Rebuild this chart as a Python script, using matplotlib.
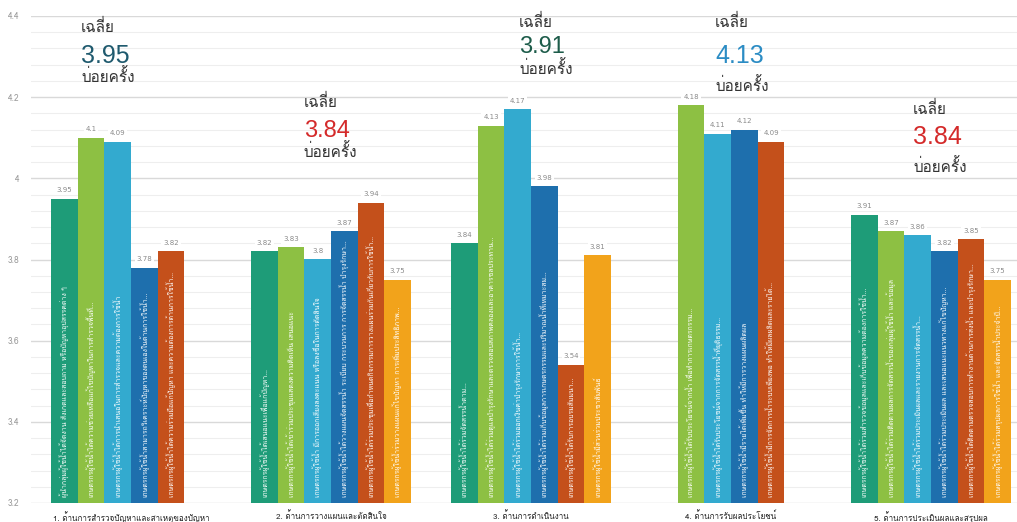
import numpy as np
import matplotlib
matplotlib.use("Agg")
import matplotlib.pyplot as plt
from matplotlib import font_manager
from matplotlib.ticker import MultipleLocator

# ---------------- data ----------------
categories = [
    "1. ด้านการสำรวจปัญหาและสาเหตุของปัญหา",
    "2. ด้านการวางแผนและตัดสินใจ",
    "3. ด้านการดำเนินงาน",
    "4. ด้านการรับผลประโยชน์",
    "5. ด้านการประเมินผลและสรุปผล",
]
s1 = [3.95, 3.82, 3.84, np.nan, 3.91]
s2 = [4.10, 3.83, 4.13, 4.18, 3.87]
s3 = [4.09, 3.80, 4.17, 4.11, 3.86]
s4 = [3.78, 3.87, 3.98, 4.12, 3.82]
s5 = [3.82, 3.94, 3.54, 4.09, 3.85]
s6 = [np.nan, 3.75, 3.81, np.nan, 3.75]
series = [s1, s2, s3, s4, s5, s6]

averages = ["3.95", "3.84", "3.91", "4.13", "3.84"]
avg_word = "เฉลี่ย"
freq_word = "บ่อยครั้ง"

bar_texts = [
    ["ผู้นำกลุ่มผู้ใช้น้ำได้จัดงาน สังเกตและสอบถาม หรือปัญหาอุปสรรคต่าง ๆ",
     "เกษตรกรผู้ใช้น้ำได้ความช่วยเหลือแก้ไขปัญหาในการสำรวจพื้นที่...",
     "เกษตรกรผู้ใช้น้ำได้การนำเสนอในการสำรวจและความต้องการใช้น้ำ",
     "เกษตรกรผู้ใช้น้ำสามารถวิเคราะห์ปัญหาของตนเองในด้านการใช้น้ำ...",
     "เกษตรกรผู้ใช้น้ำได้ความร่วมมือแก้ปัญหา และความต้องการด้านการใช้น้ำ...",
     ""],
    ["เกษตรกรผู้ใช้น้ำได้เสนอแนะเพื่อแก้ปัญหา...",
     "เกษตรกรผู้ใช้น้ำได้เข้าร่วมประชุมแสดงความคิดเห็น เสนอแนะ",
     "เกษตรกรผู้ใช้น้ำ มีการออกเสียงลงคะแนน หรือลงชื่อในการตัดสินใจ",
     "เกษตรกรผู้ใช้น้ำได้วางแผนจัดสรรน้ำ ระเบียบ กระบวนการ การจัดสรรน้ำ บำรุงรักษา...",
     "เกษตรกรผู้ใช้น้ำได้ร่วมประชุมเพื่อกำหนดกิจกรรมการวางแผนร่วมกันเกี่ยวกับการใช้น้ำ...",
     "เกษตรกรผู้ใช้น้ำร่วมวางแผนแก้ไขปัญหา การเพิ่มประสิทธิภาพ..."],
    ["เกษตรกรผู้ใช้น้ำได้ร่วมจัดสรรน้ำตาม...",
     "เกษตรกรผู้ใช้น้ำได้ร่วมดูแลบำรุงรักษาและตรวจสอบสภาพคลองและอาคารชลประทาน...",
     "เกษตรกรผู้ใช้น้ำได้ร่วมออกเงินค่าบำรุงรักษาการใช้น้ำ...",
     "เกษตรกรผู้ใช้น้ำได้ร่วมเก็บข้อมูลการเกษตรกรรมและปริมาณน้ำที่เหมาะสม...",
     "เกษตรกรผู้ใช้น้ำได้รับการอบรมสัมมนา...",
     "เกษตรกรผู้ใช้น้ำมีส่วนร่วมประชาสัมพันธ์"],
    ["",
     "เกษตรกรผู้ใช้น้ำได้รับประโยชน์จากน้ำ เพื่อทำการเกษตรกรรม...",
     "เกษตรกรผู้ใช้น้ำได้รับประโยชน์จากการจัดสรรน้ำที่ยุติธรรม...",
     "เกษตรกรผู้ใช้น้ำมีรายได้เพิ่มขึ้น ทำให้มีการวางแผนผลิตผล",
     "เกษตรกรผู้ใช้น้ำมีการจัดการน้ำระบบเพียงพอ ทำให้มีผลผลิตและรายได้...",
     ""],
    ["เกษตรกรผู้ใช้น้ำได้ร่วมสำรวจข้อมูลและเก็บข้อมูลความต้องการใช้น้ำ...",
     "เกษตรกรผู้ใช้น้ำได้ร่วมติดตามผลการจัดสรรน้ำของกลุ่มผู้ใช้น้ำ และข้อมูล",
     "เกษตรกรผู้ใช้น้ำได้ร่วมประเมินผลและรายงานการจัดสรรน้ำ...",
     "เกษตรกรผู้ใช้น้ำได้ร่วมประเมินผล และเสนอแนะแนวทางแก้ไขปัญหา...",
     "เกษตรกรผู้ใช้น้ำได้ติดตามตรวจสอบการทำงานด้านการส่งน้ำ และบำรุงรักษา...",
     "เกษตรกรผู้ใช้น้ำได้ร่วมสรุปผลการใช้น้ำ และจัดสรรน้ำประจำปี..."],
]

# ---------------- styles ----------------
bar_colors = ["#1e9c78", "#8dc043", "#33aacf", "#1e6fad", "#c4501b", "#f2a31b"]
avg_colors = ["#1f5a6e", "#d42a2a", "#1d5c4a", "#2b8cc4", "#d42a2a"]

# find a font with Thai glyphs
thai_family = None
try:
    from fontTools.ttLib import TTFont
    for f in font_manager.fontManager.ttflist:
        if "CJK" in f.name:
            continue
        try:
            tt = TTFont(f.fname, fontNumber=0, lazy=True)
            cm = tt.getBestCmap()
            if cm and 0x0E01 in cm and 0x0E48 in cm:
                thai_family = f.name
                break
        except Exception:
            pass
except Exception:
    pass
fam = ([thai_family] if thai_family else []) + ["DejaVu Sans"]
plt.rcParams["font.family"] = fam

fig = plt.figure(figsize=(10.17, 5.22), dpi=100)
ax = fig.add_axes([31 / 1017, 19 / 522, 1 - 31 / 1017, (503 - 16) / 522])

n = len(series)
w = 0.8 / n
x = np.arange(len(categories))
for k, (vals, col) in enumerate(zip(series, bar_colors)):
    pos = x + (k - (n - 1) / 2) * w
    vals = np.array(vals, dtype=float)
    ax.bar(pos, vals - 3.2, bottom=3.2, width=w, color=col, zorder=3)
    for i, v in enumerate(vals):
        if np.isnan(v):
            continue
        ax.annotate(f"{v:g}", (pos[i], v), xytext=(0, 4), textcoords="offset points",
                    ha="center", va="bottom", fontsize=5, color="#8a8a8a",
                    family="DejaVu Sans", zorder=5,
                    bbox=dict(boxstyle="square,pad=0.25", fc="white", ec="none"))
        t = bar_texts[i][k]
        if t:
            ax.text(pos[i], 3.215, t, rotation=90, ha="center", va="bottom",
                    fontsize=5.0, color="white", zorder=4, family=fam)

ax.set_ylim(3.2, 4.4)
ax.set_xlim(-0.5, -0.5 + (1017 - 31) / 200)
ax.yaxis.set_major_locator(MultipleLocator(0.2))
ax.yaxis.set_minor_locator(MultipleLocator(0.04))
ax.grid(axis="y", which="major", color="#d9d9d9", lw=1.0, zorder=0)
ax.grid(axis="y", which="minor", color="#eeeeee", lw=0.8, zorder=0)
ax.set_yticks([3.2, 3.4, 3.6, 3.8, 4.0, 4.2, 4.4])
ax.set_yticklabels(["3.2", "3.4", "3.6", "3.8", "4", "4.2", "4.4"])
ax.tick_params(axis="y", which="both", length=0, pad=8.5, labelsize=6, labelcolor="#999999")
ax.set_xticks(x)
ax.set_xticklabels(categories)
ax.tick_params(axis="x", length=0, pad=6, labelsize=5.8, labelcolor="#222222")
for s in ax.spines.values():
    s.set_visible(False)

# average annotations (pixel positions of the text blocks)
ann_left = [81, 304, 519, 715, 913]
ann_y = [(27, 56, 77), (102, 131, 152), (22, 47, 69), (22, 56, 86), (109, 137, 167)]
num_size = [18, 17, 17, 18, 18]
H = 522.0
W = 1017.0
for i in range(len(categories)):
    xl = ann_left[i] / W
    y1, y2, y3 = ann_y[i]
    fig.text(xl, 1 - y1 / H, avg_word, ha="left", va="center", fontsize=11,
             color="#333333", family=fam)
    fig.text(xl, 1 - y2 / H, averages[i], ha="left", va="center", fontsize=num_size[i],
             color=avg_colors[i], family="Liberation Sans")
    fig.text(xl, 1 - y3 / H, freq_word, ha="left", va="center", fontsize=11,
             color="#333333", family=fam)

fig.savefig("out.png", dpi=100, facecolor="white")
